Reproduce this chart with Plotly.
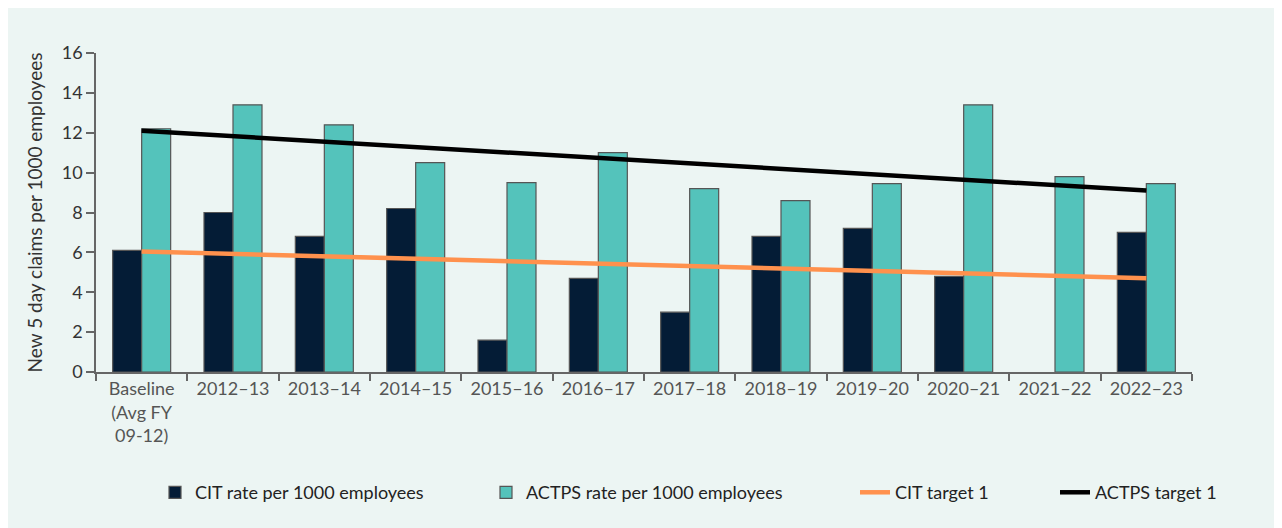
import plotly.graph_objects as go

categories = ["Baseline<br>(Avg FY<br>09-12)", "2012–13", "2013–14", "2014–15", "2015–16",
              "2016–17", "2017–18", "2018–19", "2019–20", "2020–21", "2021–22", "2022–23"]
cit_rate = [6.1, 8.0, 6.8, 8.2, 1.6, 4.7, 3.0, 6.8, 7.2, 4.8, None, 7.0]
actps_rate = [12.2, 13.4, 12.4, 10.5, 9.5, 11.0, 9.2, 8.6, 9.45, 13.4, 9.8, 9.45]
target_x = [categories[0], categories[-1]]
cit_target = [6.05, 4.7]
actps_target = [12.1, 9.1]

BG = "#ECF5F3"
FONT = "Lato"
L, R = 88, 98
PW = 1282 - L - R


def lx(text_start_px):
    # legend left edge in paper coords from desired page position of item
    return (text_start_px - 8 - L - 42) / PW


fig = go.Figure()
fig.add_trace(go.Bar(x=categories, y=cit_rate, name="CIT rate per 1000 employees", legend="legend",
                     marker=dict(color="#041C36", line=dict(color="#555555", width=1.2))))
fig.add_trace(go.Bar(x=categories, y=actps_rate, name="ACTPS rate per 1000 employees", legend="legend2",
                     marker=dict(color="#54C3BB", line=dict(color="#555555", width=1.2))))
fig.add_trace(go.Scatter(x=target_x, y=cit_target, mode="lines", name="CIT target 1", legend="legend3",
                         line=dict(color="#FF914D", width=4.5)))
fig.add_trace(go.Scatter(x=target_x, y=actps_target, mode="lines", name="ACTPS target 1", legend="legend4",
                         line=dict(color="#000000", width=4.5)))

leg_common = dict(orientation="h", xanchor="left", y=-0.378, yanchor="middle",
                  font=dict(size=18, color="#222222", family=FONT), bgcolor="rgba(0,0,0,0)")

fig.update_layout(
    width=1282, height=528,
    margin=dict(l=L, r=R, t=45, b=164),
    paper_bgcolor=BG, plot_bgcolor=BG,
    font=dict(family=FONT, color="#333333"),
    barmode="group", bargap=0.365, bargroupgap=0,
    showlegend=True,
    legend=dict(x=lx(197), **leg_common),
    legend2=dict(x=lx(528), **leg_common),
    legend3=dict(x=lx(897), **leg_common),
    legend4=dict(x=lx(1097), **leg_common),
)
fig.update_xaxes(
    type="category", showline=True, linecolor="#666666", linewidth=1.5,
    ticks="outside", tickson="boundaries", ticklen=7, tickcolor="#666666", tickwidth=1.5,
    tickfont=dict(size=18, color="#555555", family=FONT), showgrid=False,
)
fig.update_yaxes(
    range=[0, 16], dtick=2, showline=True, linecolor="#666666", linewidth=1.5,
    ticks="outside", ticklen=8, tickcolor="#666666", tickwidth=1.5,
    tickfont=dict(size=18, color="#333333", family=FONT), showgrid=False, zeroline=False,
    title=dict(text="New 5 day claims per 1000 employees", font=dict(size=19, color="#333333", family=FONT),
               standoff=14),
)

fig.write_html("out.html")
